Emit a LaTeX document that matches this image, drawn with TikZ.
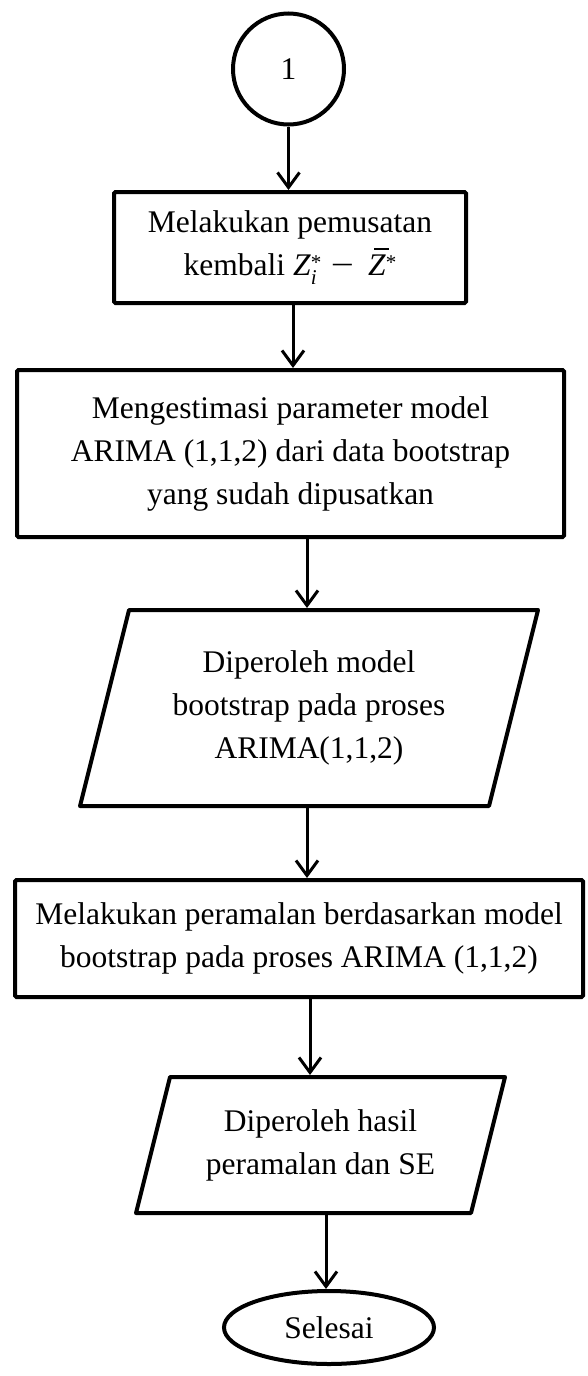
\documentclass[tikz,border=0pt]{standalone}
\usepackage{fontspec}
\setmainfont{Liberation Serif}
\usetikzlibrary{shapes.geometric,arrows.meta}
% small script-sized pieces for the centred-value expression
\newcommand{\scr}[1]{{\fontsize{21}{21}\selectfont #1}}
\newcommand{\supsub}{\rlap{\raisebox{0.18em}{\scr{*}}}\raisebox{-0.3em}{\scr{\itshape i}}}
\newcommand{\zbar}{\rlap{\hspace{0.2em}\rule[0.8em]{0.48em}{0.05em}}\textit{Z}}
\begin{document}
\begin{tikzpicture}[x=1pt,y=-1pt,
  txt/.style={inner sep=0pt, align=center, font=\fontsize{31.5}{43}\selectfont},
  proc/.style={txt, draw, rectangle, line width=4pt, rounded corners=1.5pt},
  io/.style={txt, rectangle, outer sep=2pt},
  ioshape/.style={draw, line width=4pt, line join=round},
  term/.style={txt, draw, ellipse, line width=4pt},
  conn/.style={line width=3pt, -{Straight Barb[length=15pt,width=22pt]}}]
\useasboundingbox (0,0) rectangle (588,1376);

% connector symbol
\node[txt, draw, circle, line width=4pt, minimum size=111pt] (c1) at (288.5,69) {1};

% process: re-centring
\node[proc, minimum width=352pt, minimum height=111pt] (b1) at (290,247.5)
  {Melakukan pemusatan\\kembali \textit{Z}\supsub\hspace{0.45em}\scalebox{1.3}[1]{−}\hspace{0.45em}\zbar\raisebox{0.18em}{\scr{*}}};

% process: estimation
\node[proc, minimum width=547pt, minimum height=167pt] (b2) at (290.5,453.5)
  {Mengestimasi parameter model\\ARIMA (1,1,2) dari data bootstrap\\yang sudah dipusatkan};

% output: bootstrap model
\draw[ioshape] (80,806) -- (129,610) -- (538,610) -- (489,806) -- cycle;
\node[io, minimum height=196pt] (p1) at (309,708)
  {Diperoleh model\\bootstrap pada proses\\ARIMA(1,1,2)};

% process: forecasting
\node[proc, minimum width=568pt, minimum height=117pt] (b3) at (299,938.5)
  {Melakukan peramalan berdasarkan model\\bootstrap pada proses ARIMA (1,1,2)};

% output: forecast and SE
\draw[ioshape] (136,1213) -- (170,1077) -- (505,1077) -- (471,1213) -- cycle;
\node[io, minimum height=136pt] (p2) at (320.5,1145)
  {Diperoleh hasil\\peramalan dan SE};

% terminator
\node[term, minimum width=210pt, minimum height=73pt] (e1) at (329,1327.5) {Selesai};

% connectors
\draw[conn] (c1.south) -- (c1.south |- b1.north);
\draw[conn] ([xshift=3pt]b1.south) -- ([xshift=3pt]b1.south |- b2.north);
\draw[conn] ([xshift=16.5pt]b2.south) -- ([xshift=16.5pt]b2.south |- p1.north);
\draw[conn] ([xshift=-2pt]p1.south) -- ([xshift=-2pt]p1.south |- b3.north);
\draw[conn] ([xshift=11pt]b3.south) -- ([xshift=11pt]b3.south |- p2.north);
\draw[conn] ([xshift=5.5pt]p2.south) -- ([xshift=5.5pt]p2.south |- e1.north);
\end{tikzpicture}
\end{document}
